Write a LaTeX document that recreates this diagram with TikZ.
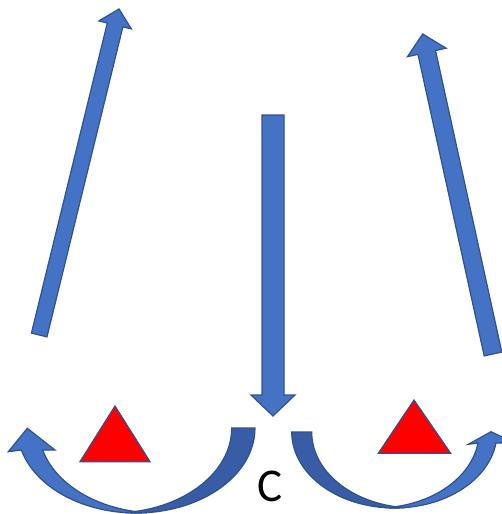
\documentclass[tikz,border=0pt]{standalone}
\usepackage{fontspec}
\setmainfont{Carlito}
\usetikzlibrary{calc}
\definecolor{ablue}{HTML}{4472C4}
\definecolor{aedge}{HTML}{2F528F}
\definecolor{adark}{RGB}{56,92,165}
\tikzset{
  shapefill/.style={fill=ablue, draw=aedge, line width=1.2pt, line join=miter},
  darkfill/.style={fill=adark, draw=aedge, line width=1.2pt},
  tri/.style={fill=red, draw=aedge, line width=1.2pt, line join=miter},
  letter/.style={font=\fontsize{47}{47}\selectfont, inner sep=0pt, anchor=base},
}
% #1 tail, #2 head, #3 half shaft width, #4 half head width, #5 head length
\newcommand\blockarr[5]{%
  \coordinate (ba-s) at ($(#2)!#5!(#1)$);
  \filldraw[shapefill] ($(#1)!#3!90:(#2)$) -- ($(ba-s)!#3!90:(#2)$) -- ($(ba-s)!#4!90:(#2)$) -- (#2)
    -- ($(ba-s)!#4!-90:(#2)$) -- ($(ba-s)!#3!-90:(#2)$) -- ($(#1)!#3!-90:(#2)$) -- cycle;
}
\begin{document}
\begin{tikzpicture}[x=1pt,y=-1pt]
\useasboundingbox (0,0) rectangle (501,514);
% straight block arrows
\coordinate (lt) at (39.2,335);
\coordinate (lh) at (119,9);
\coordinate (ct) at (273,115);
\coordinate (ch) at (273,416);
\coordinate (rt) at (493,354);
\coordinate (rh) at (422.7,34);
\blockarr{lt}{lh}{8pt}{16.75pt}{16.4pt}
\blockarr{ct}{ch}{11pt}{22pt}{21pt}
\blockarr{rt}{rh}{9pt}{19.8pt}{18.9pt}
% left curved arrow (arrow part)
\filldraw[shapefill] (8.3,451.7) -- (27.3,428.3) -- (55,450) -- (42.65,450)
  arc[start angle=165, end angle=95.14, x radius=118.85, y radius=85]
  arc[start angle=84.86, end angle=165, x radius=118.85, y radius=85] -- cycle;
% left curved arrow (tail part)
\filldraw[darkfill] (255,428)
  arc[start angle=0, end angle=95.63, x radius=118.85, y radius=85]
  arc[start angle=84.37, end angle=0, x radius=118.85, y radius=85] -- cycle;
% right curved arrow (arrow part)
\filldraw[shapefill] (468.3,444.3) -- (491,431.7) -- (515,443) -- (496,443)
  arc[start angle=8.32, end angle=95.03, x radius=102.7, y radius=76]
  arc[start angle=84.97, end angle=8.32, x radius=102.7, y radius=76] -- cycle;
% right curved arrow (tail part)
\filldraw[darkfill] (291.7,432)
  arc[start angle=180, end angle=84.41, x radius=102.7, y radius=76]
  arc[start angle=95.59, end angle=180, x radius=102.7, y radius=76] -- cycle;
% triangles
\filldraw[tri] (115,406) -- (150,461.7) -- (80,461.7) -- cycle;
\filldraw[tri] (414,400) -- (450.7,453.3) -- (378.3,453.3) -- cycle;
% letter
\node[letter] (c) at (270,501.5) {C};
\end{tikzpicture}
\end{document}
